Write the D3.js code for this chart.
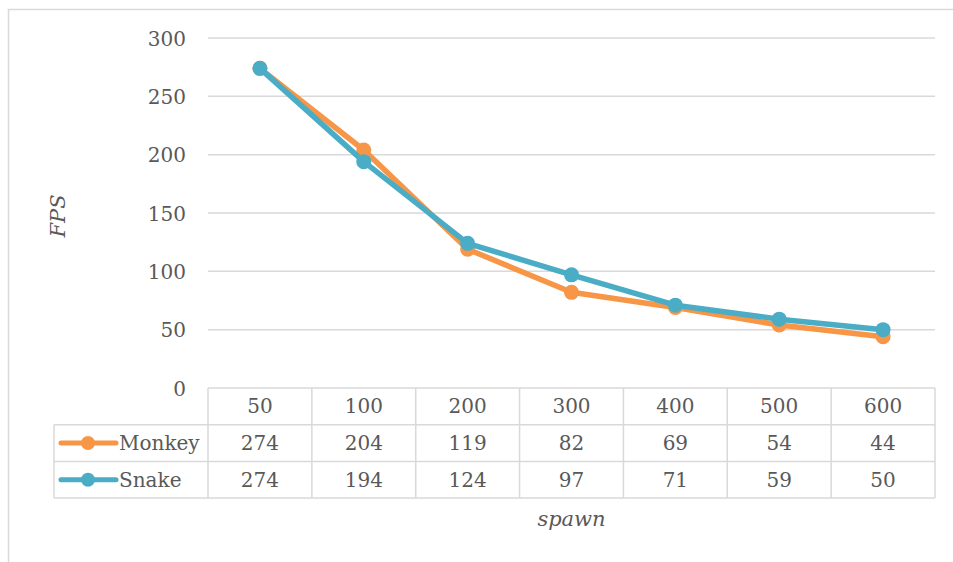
<!DOCTYPE html>
<html>
<head>
<meta charset="utf-8">
<script src="https://cdn.jsdelivr.net/npm/d3@7"></script>
<style>
  html, body { margin: 0; padding: 0; background: #fff; }
  svg text { font-family: "DejaVu Serif", "Liberation Serif", serif; fill: #595959; }
</style>
</head>
<body>
<svg id="chart" width="953" height="562"></svg>
<script>
// Spawn counts (x categories) and frame rates per series
const categories = ["50", "100", "200", "300", "400", "500", "600"];
const monkeyFps = [274, 204, 119, 82, 69, 54, 44];
const snakeFps = [274, 194, 124, 97, 71, 59, 50];
const yTicks = [0, 50, 100, 150, 200, 250, 300];
const seriesNames = ["Monkey", "Snake"];
const seriesColors = ["#F79646", "#4BACC6"];

const series = [
  { name: seriesNames[0], values: monkeyFps, color: seriesColors[0] },
  { name: seriesNames[1], values: snakeFps, color: seriesColors[1] }
];

const FONT = "'DejaVu Serif', 'Liberation Serif', serif";
const FS = 20;

const svg = d3.select("#chart");
const W = 953, H = 562;
const plot = { left: 208, right: 935, top: 38, bottom: 388 };
const legendLeft = 54;
const rowH = 36.7;
const gridColor = "#d9d9d9";

// outer chart frame (top and left edges visible)
svg.append("rect")
  .attr("x", 8.5).attr("y", 9.5)
  .attr("width", W + 10).attr("height", H + 10)
  .attr("fill", "none").attr("stroke", gridColor).attr("stroke-width", 1.5);

const x = d3.scaleBand().domain(categories).range([plot.left, plot.right]).paddingInner(0).paddingOuter(0);
const y = d3.scaleLinear().domain([0, 300]).range([plot.bottom, plot.top]);

// horizontal gridlines
svg.append("g").selectAll("line").data(yTicks.filter(d => d > 0)).join("line")
  .attr("x1", plot.left).attr("x2", plot.right)
  .attr("y1", d => y(d)).attr("y2", d => y(d))
  .attr("stroke", gridColor).attr("stroke-width", 1.5);

// y axis tick labels
const yAxis = d3.axisLeft(y).tickValues(yTicks).tickSize(0).tickPadding(22);
const yg = svg.append("g").attr("transform", `translate(${plot.left},0)`).call(yAxis)
  .attr("font-family", FONT).attr("font-size", FS);
yg.select(".domain").remove();
yg.selectAll("text")
  .attr("fill", "#595959")
  .style("font-family", FONT)
  .style("font-size", FS + "px")
  .attr("dy", "0.35em");

// data table below the plot
const tableTop = plot.bottom;
const rows = [tableTop, tableTop + rowH, tableTop + 2 * rowH, tableTop + 3 * rowH];
const tg = svg.append("g").attr("stroke", gridColor).attr("stroke-width", 1.5);
// header row top line (only across the category columns)
tg.append("line").attr("x1", plot.left).attr("x2", plot.right).attr("y1", rows[0]).attr("y2", rows[0]);
// lines under header and series rows
[rows[1], rows[2], rows[3]].forEach(r => {
  tg.append("line").attr("x1", legendLeft).attr("x2", plot.right).attr("y1", r).attr("y2", r);
});
// vertical lines between category columns
categories.forEach(c => {
  tg.append("line").attr("x1", x(c)).attr("x2", x(c)).attr("y1", rows[0]).attr("y2", rows[3]);
});
tg.append("line").attr("x1", plot.right).attr("x2", plot.right).attr("y1", rows[0]).attr("y2", rows[3]);
tg.append("line").attr("x1", legendLeft).attr("x2", legendLeft).attr("y1", rows[1]).attr("y2", rows[3]);

// header labels
svg.append("g").selectAll("text").data(categories).join("text")
  .attr("x", d => x(d) + x.bandwidth() / 2)
  .attr("y", (rows[0] + rows[1]) / 2)
  .attr("dy", "0.35em")
  .attr("text-anchor", "middle")
  .style("font-family", FONT).style("font-size", FS + "px")
  .text(d => d);

// series rows: legend key + values
series.forEach((s, i) => {
  const cy = (rows[i + 1] + rows[i + 2]) / 2;
  const g = svg.append("g");
  g.append("line")
    .attr("x1", legendLeft + 7).attr("x2", legendLeft + 62)
    .attr("y1", cy).attr("y2", cy)
    .attr("stroke", s.color).attr("stroke-width", 5).attr("stroke-linecap", "round");
  g.append("circle").attr("cx", legendLeft + 34).attr("cy", cy).attr("r", 7).attr("fill", s.color);
  g.append("text").attr("x", legendLeft + 65).attr("y", cy).attr("dy", "0.35em")
    .style("font-family", FONT).style("font-size", FS + "px").text(s.name);
  g.selectAll("text.val").data(s.values).join("text")
    .attr("class", "val")
    .attr("x", (d, j) => x(categories[j]) + x.bandwidth() / 2)
    .attr("y", cy).attr("dy", "0.35em")
    .attr("text-anchor", "middle")
    .style("font-family", FONT).style("font-size", FS + "px")
    .text(d => d);
});

// lines and markers
const line = d3.line()
  .x((d, j) => x(categories[j]) + x.bandwidth() / 2)
  .y(d => y(d));

series.forEach(s => {
  const g = svg.append("g");
  g.append("path").datum(s.values)
    .attr("d", line)
    .attr("fill", "none")
    .attr("stroke", s.color)
    .attr("stroke-width", 5.5)
    .attr("stroke-linejoin", "round")
    .attr("stroke-linecap", "round");
  g.selectAll("circle").data(s.values).join("circle")
    .attr("cx", (d, j) => x(categories[j]) + x.bandwidth() / 2)
    .attr("cy", d => y(d))
    .attr("r", 7.5)
    .attr("fill", s.color);
});

// axis titles
svg.append("text")
  .attr("transform", `translate(65,${(plot.top + plot.bottom) / 2 + 3}) rotate(-90)`)
  .attr("text-anchor", "middle")
  .style("font-family", FONT).style("font-size", "21px")
  .attr("font-style", "italic")
  .text("FPS");

svg.append("text")
  .attr("x", (plot.left + plot.right) / 2)
  .attr("y", 526)
  .attr("text-anchor", "middle")
  .style("font-family", FONT).style("font-size", "21px")
  .attr("font-style", "italic")
  .text("spawn");
</script>
</body>
</html>
